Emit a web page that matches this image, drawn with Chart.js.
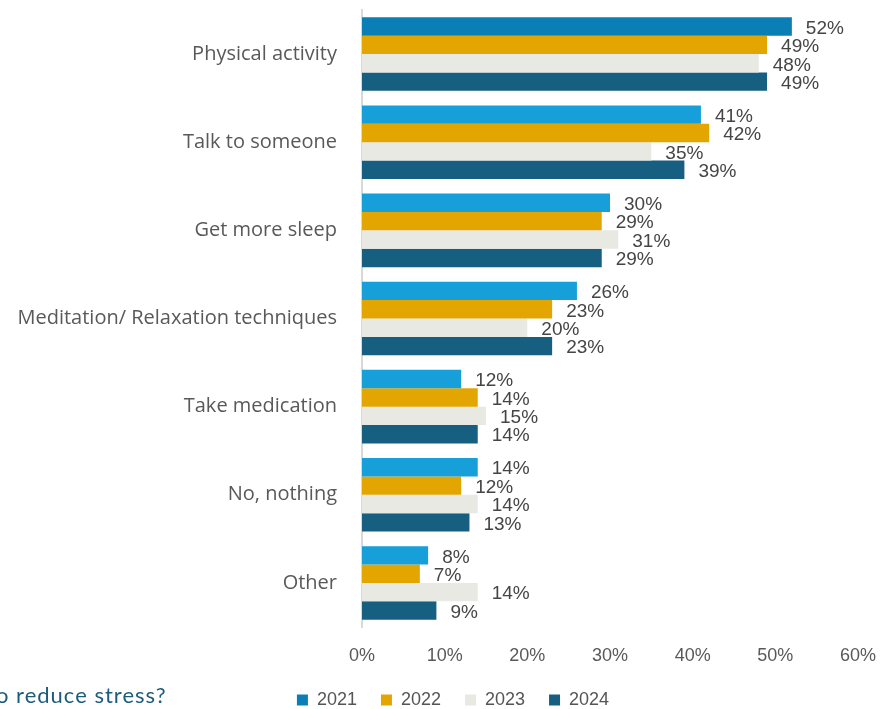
<!DOCTYPE html>
<html>
<head>
<meta charset="utf-8">
<script src="https://cdn.jsdelivr.net/npm/chart.js@4"></script>
<style>
    html, body { margin: 0; padding: 0; background: #fff; overflow: hidden; }
    .wrap { position: relative; width: 885px; height: 709px; }
    .question {
        position: absolute; left: -4px; top: 681px;
        font: 22px Lato, "Noto Sans", sans-serif; color: #1d5b7c;
        letter-spacing: 1px; white-space: nowrap;
    }
</style>
</head>
<body>
<div class="wrap">
    <canvas id="stressChart"></canvas>
    <div class="question">o reduce stress?</div>
</div>
<script>
// Survey answers and yearly shares (%)
const categories = ['Physical activity', 'Talk to someone', 'Get more sleep',
    'Meditation/ Relaxation techniques', 'Take medication', 'No, nothing', 'Other'];
const years = ['2021', '2022', '2023', '2024'];
const values2021 = [52, 41, 30, 26, 12, 14, 8];
const values2022 = [49, 42, 29, 23, 14, 12, 7];
const values2023 = [48, 35, 31, 20, 15, 14, 14];
const values2024 = [49, 39, 29, 23, 14, 13, 9];
const tickLabels = ['0%', '10%', '20%', '30%', '40%', '50%', '60%'];

const colors = ['#179fd9', '#e3a600', '#e9e9e4', '#175f80'];

// Writes the percentage just past the end of every bar
const valueLabels = {
    id: 'valueLabels',
    afterDatasetsDraw(chart) {
        const ctx = chart.ctx;
        ctx.save();
        ctx.font = '19px "Liberation Sans", Arial, sans-serif';
        ctx.fillStyle = '#454545';
        ctx.textAlign = 'left';
        ctx.textBaseline = 'middle';
        chart.data.datasets.forEach((ds, i) => {
            chart.getDatasetMeta(i).data.forEach((bar, j) => {
                ctx.fillText(ds.data[j] + '%', bar.x + 14, bar.y + 2);
            });
        });
        ctx.restore();
    }
};

// Slides the legend row a little right, under the plot rather than the page
const legendShift = {
    id: 'legendShift',
    afterLayout(chart) {
        chart.legend.left += 24;
        chart.legend.right += 24;
    }
};

const seriesValues = [values2021, values2022, values2023, values2024];

const ctx = document.getElementById('stressChart').getContext('2d');
const stressChart = new Chart(ctx, {
    type: 'bar',
    data: {
        labels: categories,
        datasets: years.map((year, i) => ({
            label: year,
            data: seriesValues[i],
            // first bar of the top group sits a shade darker
            backgroundColor: i === 0 ? values2021.map((v, j) => j === 0 ? '#0a7fb5' : colors[0]) : colors[i],
            borderWidth: 0,
            barPercentage: 1,
            categoryPercentage: 0.835
        }))
    },
    options: {
        indexAxis: 'y',
        responsive: true,
        maintainAspectRatio: false,
        animation: false,
        layout: { padding: { top: 10, right: 27, bottom: -10, left: 0 } },
        plugins: {
            legend: {
                position: 'bottom',
                labels: {
                    boxWidth: 11,
                    boxHeight: 11,
                    padding: 24,
                    color: '#555',
                    font: { family: '"Liberation Sans", Arial, sans-serif', size: 18 }
                }
            },
            tooltip: { enabled: false }
        },
        scales: {
            x: {
                min: 0,
                max: 60,
                grid: { display: false },
                border: { display: false },
                ticks: {
                    stepSize: 10,
                    padding: 10,
                    color: '#595959',
                    font: { family: '"Liberation Sans", Arial, sans-serif', size: 18 },
                    callback: (v, i) => tickLabels[i]
                },
                afterFit: (scale) => {
                    scale.height = 40;
                    scale.paddingLeft = 0;
                    scale.paddingRight = 0;
                }
            },
            y: {
                grid: { display: false },
                border: { display: true, color: '#d9d9d9', width: 2 },
                ticks: {
                    padding: 17,
                    color: '#595959',
                    font: { family: '"Open Sans", sans-serif', size: 20 }
                },
                afterFit: (scale) => {
                    scale.width = 362;
                    scale.paddingTop = 0;
                    scale.paddingBottom = 0;
                }
            }
        }
    },
    plugins: [valueLabels, legendShift]
});
</script>
</body>
</html>
